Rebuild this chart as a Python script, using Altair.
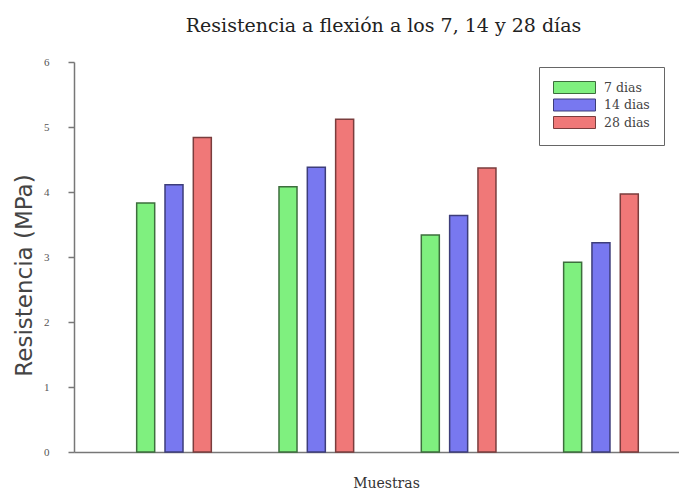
import altair as alt
import pandas as pd

muestras = ["M1", "M2", "M3", "M4"]
series = ["7 dias", "14 dias", "28 dias"]
v7 = [3.83, 4.08, 3.34, 2.92]
v14 = [4.11, 4.38, 3.64, 3.22]
v28 = [4.84, 5.12, 4.37, 3.97]
fills = ["#7ff07f", "#7878f0", "#f07878"]
strokes = ["#3d6e3d", "#3d3d7a", "#7a3d3d"]

rows = []
for s, vals in zip(series, [v7, v14, v28]):
    for m, v in zip(muestras, vals):
        rows.append({"muestra": m, "serie": s, "valor": v})
df = pd.DataFrame(rows)

serif = "DejaVu Serif"

chart = alt.Chart(df).mark_bar(strokeWidth=1.5).encode(
    x=alt.X("muestra:N", sort=muestras,
            scale=alt.Scale(paddingInner=0.403, paddingOuter=0.327, align=0.618),
            axis=alt.Axis(title="Muestras", labels=False, ticks=False,
                          domainColor="#777", domainWidth=1.5,
                          titleFont=serif, titleFontSize=14, titleFontWeight="normal",
                          titleColor="#333", titlePadding=24, titleX=312)),
    xOffset=alt.XOffset("serie:N", sort=series,
                        scale=alt.Scale(paddingInner=0.364, paddingOuter=0.182)),
    y=alt.Y("valor:Q", scale=alt.Scale(domain=[0, 6], nice=False),
            axis=alt.Axis(title="Resistencia (MPa)", values=[0, 1, 2, 3, 4, 5, 6], format="d",
                          grid=False, domainColor="#777", domainWidth=1.5,
                          tickColor="#777", tickWidth=1.5, tickSize=6,
                          labelFont="Liberation Serif", labelFontSize=11, labelColor="#555",
                          labelPadding=19,
                          titleFont="DejaVu Sans", titleFontSize=23, titleFontWeight="normal",
                          titleColor="#444", titleX=-50, titleY=213,
                          titleAlign="center", titleBaseline="middle")),
    fill=alt.Fill("serie:N", sort=series,
                  scale=alt.Scale(domain=series, range=fills),
                  legend=alt.Legend(title=None, orient="none", legendX=465, legendY=5,
                                    direction="vertical",
                                    symbolType="M-3.5,-1H3.5V1H-3.5Z", symbolSize=144,
                                    symbolOffset=15, symbolStrokeColor="#555", symbolStrokeWidth=1,
                                    symbolOpacity=1,
                                    labelOffset=23, labelFont=serif, labelFontSize=12.5,
                                    labelColor="#444", rowPadding=0.5, padding=14,
                                    strokeColor="#666", fillColor="white")),
    stroke=alt.Stroke("serie:N", sort=series,
                      scale=alt.Scale(domain=series, range=strokes), legend=None),
).properties(
    width=605, height=390,
    title=alt.TitleParams("Resistencia a flexión a los 7, 14 y 28 días",
                          font=serif, fontSize=19, fontWeight="normal", color="#222",
                          anchor="middle", offset=20, dx=7),
    autosize=alt.AutoSizeParams(type="none"),
    padding={"left": 66, "top": 54, "right": 0, "bottom": 40},
).configure_view(stroke=None)

chart.save("out.html", embed_options={"renderer": "svg", "actions": False})
